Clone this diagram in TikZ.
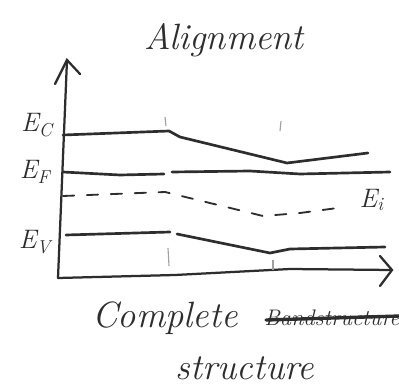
\documentclass[tikz,border=0pt]{standalone}
\usepackage{tikz}
\usetikzlibrary{
    arrows.meta,
    positioning,
    calc
}
\definecolor{penink}{RGB}{45,45,45}

\begin{document}
\begin{tikzpicture}[
        x=0.025cm, y=-0.025cm,
        band/.style={
            draw=penink,
            line width=1.9pt,
            line join=round,
            line cap=round
        },
        midgap/.style={
            band,
            line width=1.3pt,
            dash pattern=on 8pt off 9pt
        },
        axis/.style={
            draw=penink,
            line width=1.6pt,
            line cap=round
        },
        tick/.style={
            draw=penink!45,
            line width=0.8pt
        },
        level/.style={
            text=penink,
            font=\fontsize{19}{22}\selectfont\itshape,
            inner sep=1pt
        },
        hand/.style={
            text=penink,
            font=\fontsize{26}{30}\selectfont\itshape,
            inner sep=0pt
        }
    ]
    \useasboundingbox (0,0) rectangle (399,392);

    % axes
    \coordinate (origin) at (58,278);
    \coordinate (ytop) at (67,60);
    \coordinate (xend) at (392,270);
    \draw[axis] (origin) -- (ytop);
    \draw[axis] (origin) -- (175,275) -- (290,269) -- (xend);
    \draw[axis] (55,84) -- (ytop) -- (80,74);
    \draw[axis] (380,256) -- (xend) -- (380,286);

    % interface marks
    \draw[tick] (165,117) -- (166,126);
    \draw[tick] (281,121) -- (280,131);
    \draw[tick] (168,248) -- (169,266);
    \draw[tick] (273,260) -- (273,270);

    % conduction band
    \draw[band] (63,135) -- (169,131) -- (180,137) -- (287,163) -- (368,153);
    % fermi level
    \draw[band] (63,172) -- (120,175) -- (164,174);
    \draw[band] (172,172) -- (250,171) -- (300,174) -- (390,172);
    % intrinsic level
    \draw[midgap] (63,196) -- (165,192) -- (263,216) -- (300,213) -- (345,207);
    % valence band
    \draw[band] (66,235) -- (170,232);
    \draw[band] (177,234) -- (270,253) -- (290,249) -- (385,247);

    % labels
    \node[level] (ec) at (37,125) {E\textsubscript{C}};
    \node[level] (ef) at (35,172) {E\textsubscript{F}};
    \node[level] (ev) at (35,242) {E\textsubscript{V}};
    \node[level, anchor=west] (ei) at (358,200) {E\textsubscript{i}};

    \node[hand] (title) at (224,40) {Alignment};
    \node[hand, anchor=west] (complete) at (92,318) {Complete};
    \node[hand, anchor=west, font=\fontsize{16}{20}\selectfont\itshape] (struck) at (264,318) {Bandstructure};
    \draw[band, line width=2.4pt] ($(struck.west)+(2,2)$) -- ($(struck.east)+(0,-2)$);
    \node[hand] (structure) at (245,368) {structure};

\end{tikzpicture}
\end{document}
